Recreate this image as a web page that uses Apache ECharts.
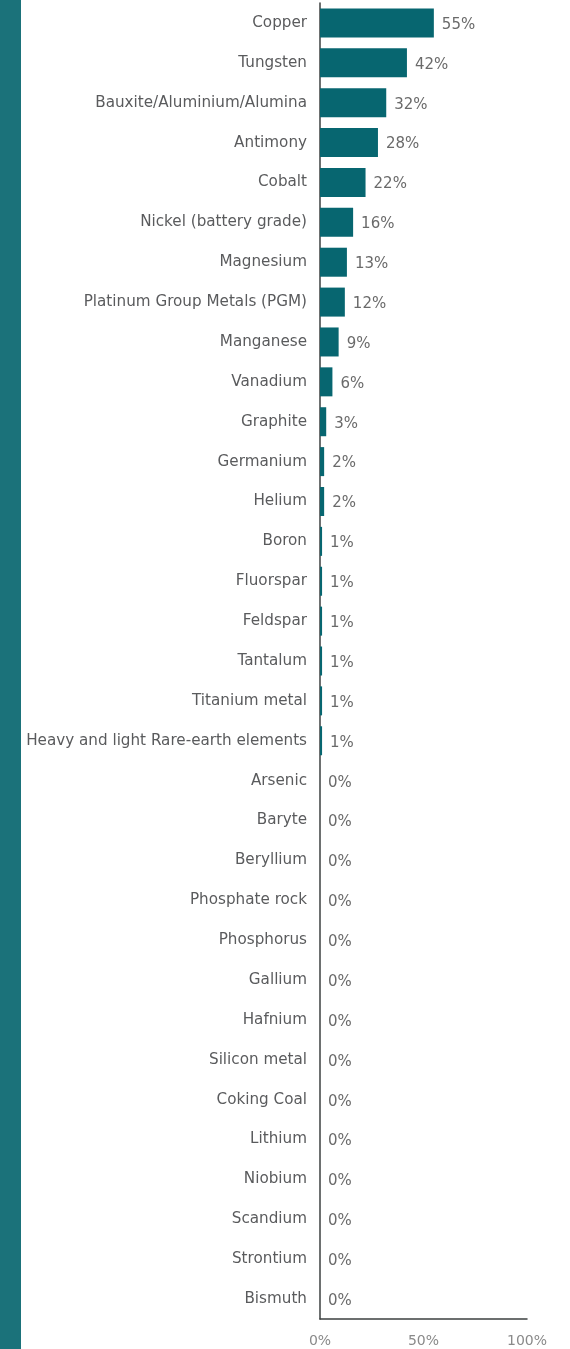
<!DOCTYPE html>
<html>
<head>
<meta charset="utf-8">
<script src="https://cdn.jsdelivr.net/npm/echarts@6/dist/echarts.min.js"></script>
<style>
  html, body { margin: 0; padding: 0; background: #ffffff; }
  #chart { width: 570px; height: 1349px; }
</style>
</head>
<body>
<div id="chart"></div>
<script>
// Minerals, top to bottom
const categories = [
  'Copper', 'Tungsten', 'Bauxite/Aluminium/Alumina', 'Antimony', 'Cobalt',
  'Nickel (battery grade)', 'Magnesium', 'Platinum Group Metals (PGM)', 'Manganese', 'Vanadium',
  'Graphite', 'Germanium', 'Helium', 'Boron', 'Fluorspar',
  'Feldspar', 'Tantalum', 'Titanium metal', 'Heavy and light Rare-earth elements', 'Arsenic',
  'Baryte', 'Beryllium', 'Phosphate rock', 'Phosphorus', 'Gallium',
  'Hafnium', 'Silicon metal', 'Coking Coal', 'Lithium', 'Niobium',
  'Scandium', 'Strontium', 'Bismuth'
];
// Share, in percent
const values = [
  55, 42, 32, 28, 22,
  16, 13, 12, 9, 6,
  3, 2, 2, 1, 1,
  1, 1, 1, 1, 0,
  0, 0, 0, 0, 0,
  0, 0, 0, 0, 0,
  0, 0, 0
];
const xTicks = [0, 50, 100];

const FONT = 'DejaVu Sans';
const chart = echarts.init(document.getElementById('chart'));

chart.setOption({
  animation: false,
  backgroundColor: '#ffffff',
  graphic: [{
    type: 'rect',
    left: 0, top: 0,
    shape: { width: 21, height: 1349 },
    style: { fill: '#1b727a' }
  }],
  grid: { left: 320, right: 43, top: 3, bottom: 30 },
  xAxis: {
    type: 'value',
    min: xTicks[0],
    max: xTicks[xTicks.length - 1],
    interval: 50,
    axisLine: { show: true, lineStyle: { color: '#3d4040', width: 1.5 } },
    axisTick: { show: false },
    splitLine: { show: false },
    axisLabel: {
      formatter: v => v + '%',
      color: '#8a8a8a',
      fontFamily: FONT,
      fontSize: 14,
      margin: 15,
      align: 'center'
    }
  },
  yAxis: {
    type: 'category',
    inverse: true,
    data: categories,
    axisLine: { show: true, onZero: false, lineStyle: { color: '#3d4040', width: 1.5 } },
    axisTick: { show: false },
    axisLabel: {
      color: '#5a5b5d',
      fontFamily: FONT,
      fontSize: 15.2,
      margin: 13
    }
  },
  series: [{
    type: 'bar',
    data: values,
    barWidth: 29,
    itemStyle: { color: '#076670' },
    label: {
      show: true,
      position: 'right',
      distance: 8,
      offset: [0, 2],
      formatter: p => p.value + '%',
      color: '#6a6a6a',
      fontFamily: FONT,
      fontSize: 15
    }
  }]
});
</script>
</body>
</html>
